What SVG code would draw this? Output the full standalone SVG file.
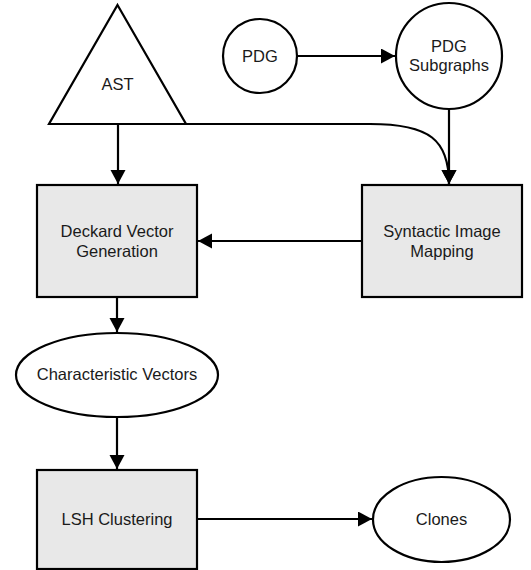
<svg xmlns="http://www.w3.org/2000/svg" width="531" height="570" viewBox="0 0 531 570">
<defs>
<marker id="arr" markerUnits="userSpaceOnUse" markerWidth="16" markerHeight="16" refX="14" refY="7.5" orient="auto">
<path d="M0,0 L14,7.5 L0,15 Z" fill="#000"/>
</marker>
<style>
.n{stroke:#000;stroke-width:2.2;fill:#fff}
.b{stroke:#000;stroke-width:2.2;fill:#e8e8e8}
.t{font-family:"Liberation Sans",Arial,sans-serif;font-size:16.5px;fill:#1a1a1a;text-anchor:middle}
.c{stroke:#000;stroke-width:2.2;fill:none;marker-end:url(#arr)}
</style>
</defs>
<rect width="531" height="570" fill="#fff"/>
<g id="connectors">
<path class="c" d="M118,124 L118,184"/>
<path class="c" d="M186,124 L370,124 C430,124 449,140 449,184"/>
<path class="c" d="M297,56 L395,56"/>
<path class="c" d="M449,109 L449,184"/>
<path class="c" d="M362,241 L198,241"/>
<path class="c" d="M117,297 L117,332"/>
<path class="c" d="M117,417 L117,469"/>
<path class="c" d="M197,519 L372,519"/>
</g>
<g id="ast">
<path class="n" d="M117.5,5 L186,124 L49,124 Z"/>
<text class="t" x="117.5" y="90">AST</text>
</g>
<g id="pdg">
<circle class="n" cx="260" cy="56" r="37"/>
<text class="t" x="260" y="62">PDG</text>
</g>
<g id="pdg-subgraphs">
<circle class="n" cx="449" cy="56" r="53"/>
<text class="t" x="449" y="52">PDG</text>
<text class="t" x="449" y="71">Subgraphs</text>
</g>
<g id="deckard">
<rect class="b" x="37" y="185" width="160" height="112"/>
<text class="t" x="117" y="237">Deckard Vector</text>
<text class="t" x="117" y="257">Generation</text>
</g>
<g id="syntactic">
<rect class="b" x="362" y="185" width="160" height="112"/>
<text class="t" x="442" y="237">Syntactic Image</text>
<text class="t" x="442" y="257">Mapping</text>
</g>
<g id="char-vectors">
<ellipse class="n" cx="117" cy="375" rx="101" ry="42"/>
<text class="t" x="117" y="380">Characteristic Vectors</text>
</g>
<g id="lsh">
<rect class="b" x="37" y="470" width="160" height="99"/>
<text class="t" x="117" y="525">LSH Clustering</text>
</g>
<g id="clones">
<ellipse class="n" cx="441.5" cy="519.5" rx="68.5" ry="42.5"/>
<text class="t" x="441.5" y="525">Clones</text>
</g>
</svg>
